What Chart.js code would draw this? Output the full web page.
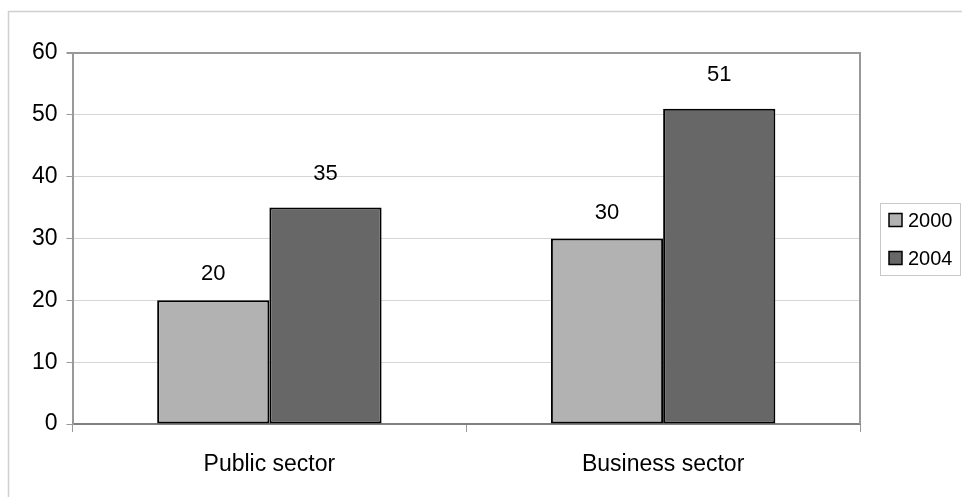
<!DOCTYPE html>
<html>
<head>
<meta charset="utf-8">
<script src="https://cdn.jsdelivr.net/npm/chart.js"></script>
<style>
  html, body { margin: 0; padding: 0; background: #fff; }
  #wrap { width: 962px; height: 497px; }
</style>
</head>
<body>
<div id="wrap"><canvas id="sectors"></canvas></div>
<script>
const categories = ['Public sector', 'Business sector'];
const years = ['2000', '2004'];
const values2000 = [20, 30];
const values2004 = [35, 51];
const barColors = ['#b2b2b2', '#676767'];

const FONT = '"Liberation Sans", Arial, sans-serif';

// light frame round the whole chart, plus the right edge of the plot
const frame = {
    id: 'frame',
    beforeDraw(chart) {
        const c = chart.ctx;
        c.save();
        c.strokeStyle = '#d0d0d0';
        c.lineWidth = 1.5;
        c.strokeRect(8.5, 11.5, 1000, 600);
        c.restore();
    },
    afterDatasetsDraw(chart) {
        const a = chart.chartArea;
        const c = chart.ctx;
        c.save();
        c.strokeStyle = '#999';
        c.lineWidth = 2;
        c.beginPath();
        c.moveTo(a.right, a.top - 1);
        c.lineTo(a.right, a.bottom);
        c.stroke();
        c.restore();
    }
};

// numbers above the bars
const valueLabels = {
    id: 'valueLabels',
    afterDatasetsDraw(chart) {
        const c = chart.ctx;
        const offsets = [26, 34];
        c.save();
        c.font = '22px ' + FONT;
        c.fillStyle = '#000';
        c.textAlign = 'center';
        c.textBaseline = 'middle';
        chart.data.datasets.forEach((ds, i) => {
            chart.getDatasetMeta(i).data.forEach((bar, j) => {
                c.fillText(ds.data[j], bar.x, bar.y - offsets[i]);
            });
        });
        c.restore();
    }
};

// boxed legend at the right
const sideLegend = {
    id: 'sideLegend',
    afterDraw(chart) {
        const c = chart.ctx;
        const x = 880.5, y = 203.5, w = 80, h = 72;
        c.save();
        c.strokeStyle = '#c8c8c8';
        c.lineWidth = 1;
        c.strokeRect(x, y, w, h);
        c.font = '20px ' + FONT;
        c.textBaseline = 'middle';
        c.textAlign = 'left';
        chart.data.datasets.forEach((ds, i) => {
            const cy = 220 + i * 38;
            c.fillStyle = ds.backgroundColor;
            c.fillRect(889, cy - 6.5, 13, 13);
            c.strokeStyle = '#000';
            c.lineWidth = 1.5;
            c.strokeRect(889, cy - 6.5, 13, 13);
            c.fillStyle = '#000';
            c.fillText(ds.label, 908, cy + 1);
        });
        c.restore();
    }
};

new Chart(document.getElementById('sectors'), {
    type: 'bar',
    data: {
        labels: categories,
        datasets: [{
                label: years[0],
                data: values2000,
                backgroundColor: barColors[0],
                borderColor: '#000',
                borderWidth: 2,
                borderSkipped: false,
                categoryPercentage: 0.57,
                barPercentage: 1
            },
            {
                label: years[1],
                data: values2004,
                backgroundColor: barColors[1],
                borderColor: '#000',
                borderWidth: 2,
                borderSkipped: false,
                categoryPercentage: 0.57,
                barPercentage: 1
            }
        ]
    },
    options: {
        responsive: true,
        maintainAspectRatio: false,
        animation: false,
        layout: {
            padding: { top: 53, right: 102, left: 0, bottom: 0 }
        },
        plugins: {
            legend: { display: false },
            tooltip: { enabled: false }
        },
        scales: {
            x: {
                afterFit(scale) { scale.height = 73; },
                grid: {
                    offset: true,
                    drawOnChartArea: false,
                    tickLength: 8,
                    tickColor: '#999'
                },
                border: { color: '#808080', width: 2 },
                ticks: {
                    color: '#000',
                    padding: 19,
                    font: { family: FONT, size: 23 }
                }
            },
            y: {
                min: 0,
                max: 60,
                afterFit(scale) { scale.width = 72.5; },
                grid: {
                    color: (ctx) => ctx.tick && ctx.tick.value === 60 ? '#999' : '#d6d6d6',
                    lineWidth: (ctx) => ctx.tick && ctx.tick.value === 60 ? 2 : 1,
                    tickLength: 6,
                    tickColor: '#999'
                },
                border: { color: '#999', width: 2 },
                ticks: {
                    stepSize: 10,
                    color: '#000',
                    padding: 9,
                    font: { family: FONT, size: 23 }
                }
            }
        }
    },
    plugins: [frame, valueLabels, sideLegend]
});
</script>
</body>
</html>
